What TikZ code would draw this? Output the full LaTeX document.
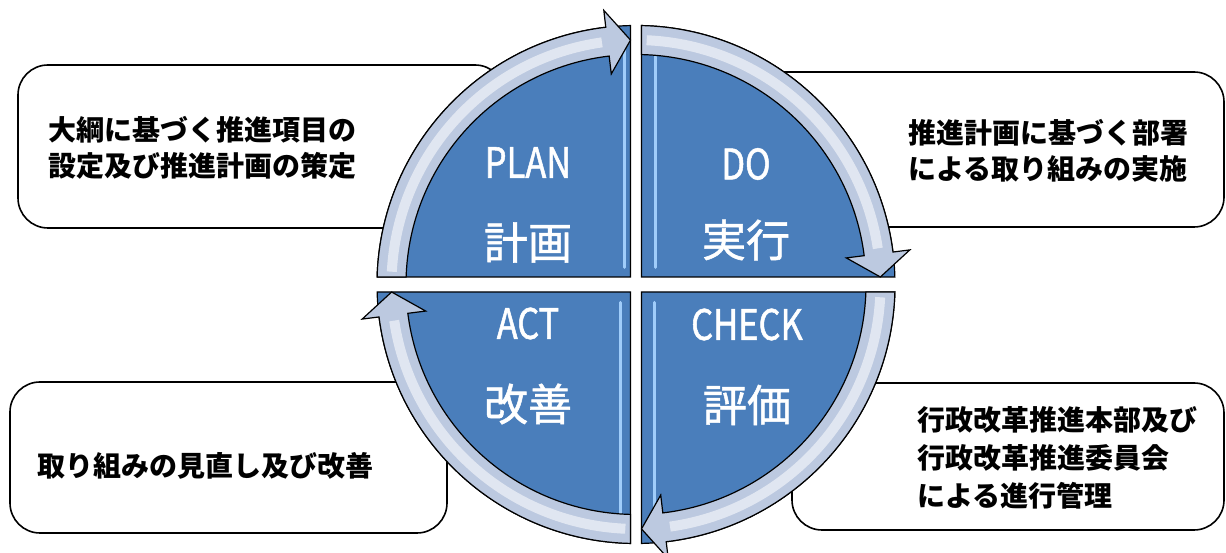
\documentclass[tikz,border=0pt]{standalone}
\usepackage{fontspec}
\newfontfamily\jp{Noto Sans CJK JP}
\newfontfamily\jpw[FakeBold=1.2]{Noto Sans CJK JP}
\newfontfamily\lat[FakeStretch=0.82,FakeBold=1.2]{Noto Sans CJK JP}
\definecolor{qblue}{RGB}{74,126,187}
\definecolor{bandc}{RGB}{188,201,224}
\definecolor{bevelc}{RGB}{160,205,250}
\tikzset{
 note/.style={draw=black, line width=1.6pt, fill=white, rounded corners=30pt, inner sep=0pt},
 notetext/.style={anchor=west, inner sep=0pt, align=left, font=\jp\bfseries\fontsize{28}{35.5}\selectfont},
 quad/.style={fill=qblue, draw=black, line width=1.2pt},
 arrowband/.style={fill=bandc, draw=black, line width=1.2pt, line join=miter},
 shine/.style={white, opacity=0.55, line width=10pt},
 bevelline/.style={bevelc, line width=3pt, line cap=round},
 labL/.style={text=white, inner sep=0pt, font=\lat\fontsize{42}{42}\selectfont},
 labJ/.style={text=white, inner sep=0pt, font=\jpw\fontsize{44}{44}\selectfont},
}
\begin{document}
\begin{tikzpicture}[x=1pt,y=1pt]
\useasboundingbox (0,0) rectangle (1226,553);
% note boxes
\node[note, minimum width=487pt, minimum height=163pt] (n1) at (261.5,406.5) {};
\node[note, minimum width=504pt, minimum height=155pt] (n2) at (972,403.5) {};
\node[note, minimum width=437pt, minimum height=151pt] (n3) at (228.5,95.5) {};
\node[note, minimum width=432pt, minimum height=147pt] (n4) at (1008,96.5) {};
\node[notetext] (t1) at (48,405.25) {大綱に基づく推進項目の\\設定及び推進計画の策定};
\node[notetext] (t2) at (908,402) {推進計画に基づく部署\\による取り組みの実施};
\node[notetext] (t3) at (37,87) {取り組みの見直し及び改善};
\node[notetext, font=\jp\bfseries\fontsize{28}{38}\selectfont] (t4) at (917,95) {行政改革推進本部及び\\行政改革推進委員会\\による進行管理};
% cycle
\coordinate (c) at (636,268.5);
\begin{scope}[shift={(c)}]
 \draw[quad] (-5.5,7.5) -- (178.34:259pt) arc[start angle=178.34,end angle=91.22,radius=259pt] -- cycle;
 \draw[quad] (5.5,7.5) -- (88.78:259pt) arc[start angle=88.78,end angle=1.66,radius=259pt] -- cycle;
 \draw[quad] (5.5,-7.5) -- (-1.66:259pt) arc[start angle=-1.66,end angle=-88.78,radius=259pt] -- cycle;
 \draw[quad] (-5.5,-7.5) -- (-91.22:259pt) arc[start angle=-91.22,end angle=-178.34,radius=259pt] -- cycle;
 % bevel highlights
 \draw[bevelline] (-12,17) -- (-12,235);
 \draw[bevelline] (19.5,17) -- (19.5,235);
 \draw[bevelline] (-16,-18) -- (-16,-235);
 \draw[bevelline] (18.5,-18) -- (18.5,-235);
 % arrows
 \draw[arrowband] (178.34:259pt) arc[start angle=178.34,end angle=96.7,radius=259pt] -- (96.7:276pt) -- (91.29:244.5pt) -- (96.7:212pt) -- (96.7:230pt) arc[start angle=96.7,end angle=178.13,radius=230pt] -- cycle;
 \draw[shine] (177:244.5pt) arc[start angle=177,end angle=98,radius=244.5pt];
 \draw[arrowband] (88.78:259pt) arc[start angle=88.78,end angle=7.2,radius=259pt] -- (7.2:276pt) -- (1.76:244.5pt) -- (7.2:212pt) -- (7.2:230pt) arc[start angle=7.2,end angle=88.63,radius=230pt] -- cycle;
 \draw[shine] (87.5:244.5pt) arc[start angle=87.5,end angle=8.5,radius=244.5pt];
 \draw[arrowband] (-1.66:259pt) arc[start angle=-1.66,end angle=-83.3,radius=259pt] -- (-83.3:276pt) -- (-88.71:244.5pt) -- (-83.3:212pt) -- (-83.3:230pt) arc[start angle=-83.3,end angle=-1.87,radius=230pt] -- cycle;
 \draw[shine] (-3:244.5pt) arc[start angle=-3,end angle=-82,radius=244.5pt];
 \draw[arrowband] (268.78:259pt) arc[start angle=268.78,end angle=187.2,radius=259pt] -- (187.2:276pt) -- (181.76:244.5pt) -- (187.2:212pt) -- (187.2:230pt) arc[start angle=187.2,end angle=268.63,radius=230pt] -- cycle;
 \draw[shine] (267.5:244.5pt) arc[start angle=267.5,end angle=188.5,radius=244.5pt];
\end{scope}
% labels
\node[labL] (plan) at (528,390.5) {PLAN};
\node[labJ] (planj) at (528,310.5) {計画};
\node[labL] (do) at (746,389) {DO};
\node[labJ] (doj) at (746,313) {実行};
\node[labL] (act) at (528,229.5) {ACT};
\node[labJ] (actj) at (528,149) {改善};
\node[labL] (check) at (747,228.5) {CHECK};
\node[labJ] (checkj) at (747,148) {評価};
\end{tikzpicture}
\end{document}
